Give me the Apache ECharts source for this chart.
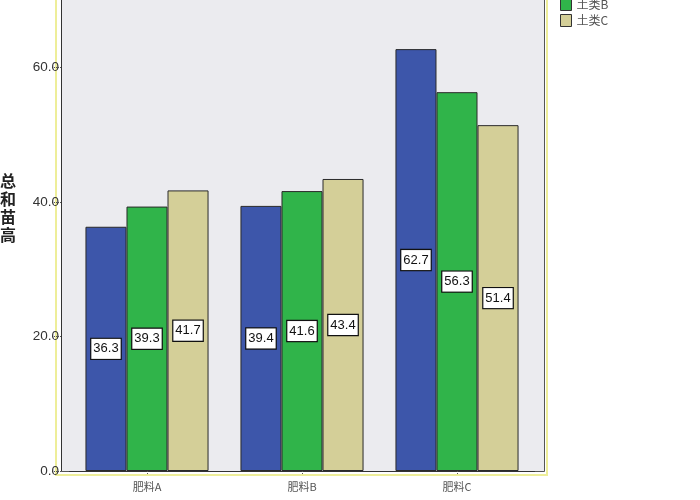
<!DOCTYPE html>
<html><head><meta charset="utf-8">
<script src="https://cdn.jsdelivr.net/npm/echarts@6/dist/echarts.min.js"></script>
<style>html,body{margin:0;padding:0;background:#fff}#c{width:700px;height:500px}</style>
</head><body><div id="c"></div>
<script>
var categories = ['肥料A', '肥料B', '肥料C'];
var seriesNames = ['土类A', '土类B', '土类C'];
var soilA = [36.3, 39.4, 62.7];
var soilB = [39.3, 41.6, 56.3];
var soilC = [41.7, 43.4, 51.4];
var yTicks = [0, 20, 40, 60];
var yTitle = '总\n和\n苗\n高';
var colors = ['#3d56aa', '#30b44a', '#d4cf98'];

var chart = echarts.init(document.getElementById('c'), null, {renderer: 'canvas'});
var dataSets = [soilA, soilB, soilC];
var series = dataSets.map(function (d, i) {
  return {
    name: seriesNames[i], type: 'bar', data: d, barGap: '0%', barCategoryGap: '20.6%',
    itemStyle: {color: colors[i], borderColor: '#2a2a2a', borderWidth: 1},
    label: {
      show: true, position: 'inside', formatter: function (p) { return p.value.toFixed(1); },
      backgroundColor: '#fff', borderColor: '#111', borderWidth: 1.2,
      padding: [4, 2, 3, 2], color: '#111', fontSize: 13, fontFamily: 'Arial, Liberation Sans, sans-serif'
    }
  };
});

chart.setOption({
  animation: false,
  backgroundColor: '#fff',
  graphic: [
    {type: 'rect', z: -10, silent: true, shape: {x: 56, y: -20, width: 491, height: 495},
     style: {fill: '#fff', stroke: '#eeee99', lineWidth: 2}},
    {type: 'rect', z: -9, silent: true, shape: {x: 61.5, y: -20, width: 483, height: 491.5},
     style: {fill: '#ebebef', stroke: '#555', lineWidth: 1}},
    {type: 'text', z: 10, left: 0, top: 172,
     style: {text: yTitle, fill: '#222', font: 'bold 16px "Noto Sans CJK SC"', lineHeight: 18}}
  ],
  legend: {
    data: seriesNames, orient: 'vertical', left: 555, top: -23,
    itemWidth: 11, itemHeight: 12, itemGap: 3,
    icon: 'rect',
    itemStyle: {borderColor: '#333', borderWidth: 1},
    textStyle: {color: '#555', fontSize: 12, lineHeight: 12, fontFamily: 'Noto Sans CJK SC'}
  },
  grid: {left: 69.5, width: 465, top: 0, bottom: 29, containLabel: false},
  xAxis: {type: 'category', data: categories,
     axisLine: {show: true, lineStyle: {color: '#333', width: 1}},
     axisTick: {show: true, alignWithLabel: true, length: 4, lineStyle: {color: '#555', type: 'dotted'}},
     axisLabel: {color: '#555', fontSize: 11, margin: 10, fontFamily: 'Noto Sans CJK SC'}},
  yAxis: {type: 'value', min: 0, max: 70, interval: 20, offset: 8.5,
     axisLine: {show: true, lineStyle: {color: '#333', width: 1}},
     axisTick: {show: true, length: 9, lineStyle: {color: '#555', type: 'dotted'}},
     axisLabel: {color: '#333', fontSize: 13.5, margin: 2, showMaxLabel: false,
                 formatter: function (v) { return yTicks.indexOf(v) >= 0 ? v.toFixed(1) : ''; },
                 fontFamily: 'Arial, Liberation Sans, sans-serif'},
     splitLine: {show: false}},
  series: series
});
</script></body></html>
